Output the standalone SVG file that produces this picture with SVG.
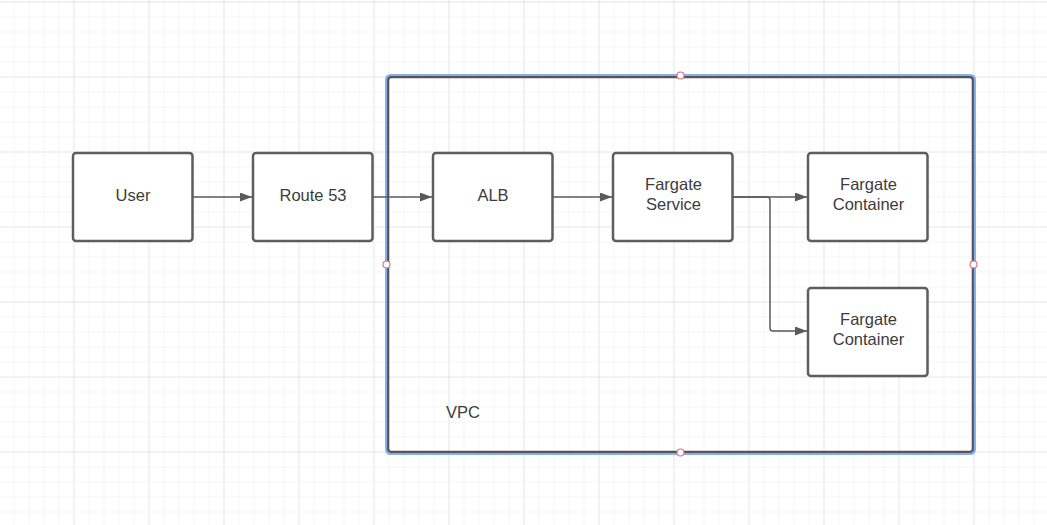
<svg xmlns="http://www.w3.org/2000/svg" width="1047" height="525" viewBox="0 0 1047 525">
  <defs>
    <pattern id="minor" x="13.5" y="1.5" width="15" height="15" patternUnits="userSpaceOnUse">
      <path d="M0,0 V15 M0,0 H15" fill="none" stroke="#ececec" stroke-width="1"/>
    </pattern>
    <pattern id="major" x="73.5" y="1.5" width="75" height="75" patternUnits="userSpaceOnUse">
      <path d="M0,0 V75 M0,0 H75" fill="none" stroke="#dadada" stroke-width="1"/>
    </pattern>
    <marker id="arr" viewBox="0 0 12 9" refX="12" refY="4.5" markerWidth="12" markerHeight="9" markerUnits="userSpaceOnUse" orient="auto">
      <path d="M0,0 L12,4.5 L0,9 z" fill="#5a5a5a"/>
    </marker>
    <style>
      .node rect { fill: #ffffff; stroke: #5e5e5e; stroke-width: 2.5; }
      .label { font-family: "Liberation Sans", Arial, sans-serif; font-size: 16.5px; fill: #3c3c3c; text-anchor: middle; }
      .conn { fill: none; stroke: #5a5a5a; stroke-width: 1.5; marker-end: url(#arr); }
      .handle { fill: #ffffff; stroke: #e07080; stroke-width: 1.2; }
    </style>
  </defs>
  <rect width="1047" height="525" fill="#ffffff"/>
  <rect width="1047" height="525" fill="url(#minor)"/>
  <rect width="1047" height="525" fill="url(#major)"/>

  <g id="vpc">
    <rect x="386.5" y="75.5" width="588" height="378" rx="4" fill="none" stroke="#86aef0" stroke-width="3"/>
    <rect x="388.2" y="77.2" width="584.6" height="374.6" rx="3" fill="none" stroke="#555555" stroke-width="2.2"/>
    <text class="label" x="463" y="418">VPC</text>
    <circle class="handle" cx="680.5" cy="75.5" r="3.5"/>
    <circle class="handle" cx="386.5" cy="264.5" r="3.5"/>
    <circle class="handle" cx="973.5" cy="264.5" r="3.5"/>
    <circle class="handle" cx="680.5" cy="452.5" r="3.5"/>
  </g>

  <g id="connectors">
    <path class="conn" d="M193,197 H252"/>
    <path class="conn" d="M373,197 H432"/>
    <path class="conn" d="M553,197 H612"/>
    <path class="conn" d="M733,197 H807"/>
    <path class="conn" d="M733,197 H767 Q770,197 770,200 V328 Q770,331 773,331 H807"/>
  </g>

  <g id="user" class="node">
    <rect x="73" y="153" width="119.5" height="88" rx="3"/>
    <text class="label" x="133" y="200.5">User</text>
  </g>
  <g id="route53" class="node">
    <rect x="253" y="153" width="119.5" height="88" rx="3"/>
    <text class="label" x="313" y="200.5">Route 53</text>
  </g>
  <g id="alb" class="node">
    <rect x="433" y="153" width="119.5" height="88" rx="3"/>
    <text class="label" x="493" y="200.5">ALB</text>
  </g>
  <g id="fargate-service" class="node">
    <rect x="613" y="153" width="119.5" height="88" rx="3"/>
    <text class="label" x="673.5" y="190">Fargate</text>
    <text class="label" x="673.5" y="210">Service</text>
  </g>
  <g id="fargate-container-1" class="node">
    <rect x="808" y="153" width="119.5" height="88" rx="3"/>
    <text class="label" x="868.5" y="190">Fargate</text>
    <text class="label" x="868.5" y="210">Container</text>
  </g>
  <g id="fargate-container-2" class="node">
    <rect x="808" y="288" width="119.5" height="88" rx="3"/>
    <text class="label" x="868.5" y="325">Fargate</text>
    <text class="label" x="868.5" y="345">Container</text>
  </g>
</svg>
